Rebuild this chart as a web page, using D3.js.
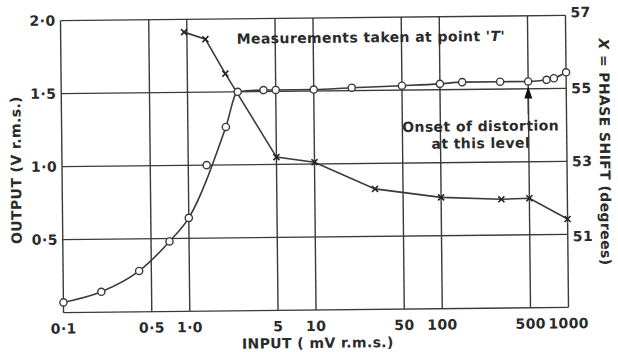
<!DOCTYPE html>
<meta charset="utf-8">
<head>
  <script src="https://d3js.org/d3.v7.min.js"></script>
  <style>
    body { margin: 0; background: #fff; }
    text { font-family: "DejaVu Sans", sans-serif; fill: #2a2a2a; letter-spacing: 0.4px; }
  </style>
</head>
<body>
  <div id="chart"></div>
  <script>
    // output curve (circles)
    var outInput = [0.1, 0.2, 0.4, 0.7, 1.0, 2, 2.5, 4, 5, 10, 20, 50, 100, 150, 300, 500, 700, 800, 1000];
    var outValue = [0.07, 0.14, 0.28, 0.48, 0.64, 1.26, 1.5, 1.51, 1.51, 1.51, 1.52, 1.53, 1.54, 1.55, 1.55, 1.55, 1.56, 1.57, 1.61];
    // stray circle off the curve
    var strayInput = [1.4];
    var strayValue = [1.0];
    // phase shift (crosses)
    var phaseInput = [0.95, 1.4, 2, 5, 10, 30, 100, 300, 500, 1000];
    var phaseDeg = [56.65, 56.45, 55.5, 53.2, 53.05, 52.3, 52.05, 51.98, 52.0, 51.42];

    var xTicks = [0.1, 0.5, 1, 5, 10, 50, 100, 500, 1000];
    var xTickLabels = ["0·1", "0·5", "1·0", "5", "10", "50", "100", "500", "1000"];
    var yTicks = [0.5, 1.0, 1.5, 2.0];
    var yTickLabels = ["0·5", "1·0", "1·5", "2·0"];
    var degTicks = [51, 53, 55, 57];

    var W = 618, H = 352;
    var pLeft = 62, pRight = 567, pTop = 18, pBottom = 310;

    var svg = d3.select("#chart").append("svg")
      .attr("width", W).attr("height", H);

    // the printed figure sits slightly askew
    var g = svg.append("g")
      .attr("transform", "rotate(-0.6," + ((pLeft + pRight) / 2) + "," + ((pTop + pBottom) / 2) + ")");

    var x = d3.scaleLog().domain([0.1, 1000]).range([pLeft, pRight]);
    var y = d3.scaleLinear().domain([0, 2]).range([pBottom, pTop]);
    var yd = d3.scaleLinear().domain([49, 57]).range([pBottom, pTop]);

    var ink = "#3a3a3a";

    // grid
    g.selectAll(".vg").data(xTicks).enter().append("line")
      .attr("x1", d => x(d)).attr("x2", d => x(d))
      .attr("y1", pTop).attr("y2", pBottom)
      .attr("stroke", ink).attr("stroke-width", 1.4);
    g.selectAll(".hg").data([0].concat(yTicks)).enter().append("line")
      .attr("x1", pLeft).attr("x2", pRight)
      .attr("y1", d => y(d)).attr("y2", d => y(d))
      .attr("stroke", ink).attr("stroke-width", 1.4);

    // tick labels
    g.selectAll(".yl").data(yTicks).enter().append("text")
      .attr("x", pLeft - 5).attr("y", d => y(d)).attr("dy", "0.35em")
      .attr("text-anchor", "end").attr("font-size", 14).attr("font-weight", "bold")
      .text((d, i) => yTickLabels[i]);
    g.selectAll(".xl").data(xTicks).enter().append("text")
      .attr("x", d => x(d)).attr("y", pBottom + 16).attr("dy", "0.35em")
      .attr("text-anchor", "middle").attr("font-size", 14).attr("font-weight", "bold")
      .text((d, i) => xTickLabels[i]);
    g.selectAll(".dl").data(degTicks).enter().append("text")
      .attr("x", pRight + 5).attr("y", d => yd(d) + (d == 57 ? -3 : (d == 51 ? 2 : 0))).attr("dy", "0.35em")
      .attr("font-size", 14).attr("font-weight", "bold")
      .text(d => d);

    // axis titles
    g.append("text")
      .attr("x", 316).attr("y", 343).attr("dy", "0.35em")
      .attr("text-anchor", "middle").attr("font-size", 14).attr("font-weight", "bold")
      .text("INPUT ( mV r.m.s.)");
    g.append("text")
      .attr("transform", "translate(16,167) rotate(-90)").attr("dy", "0.35em")
      .attr("text-anchor", "middle").attr("font-size", 14).attr("font-weight", "bold")
      .text("OUTPUT (V r.m.s.)");
    var rt = g.append("text")
      .attr("transform", "translate(605,155) rotate(90)").attr("dy", "0.35em")
      .attr("text-anchor", "middle").attr("font-size", 14).attr("font-weight", "bold");
    rt.append("tspan").attr("font-style", "italic").text("X");
    rt.append("tspan").text(" = PHASE SHIFT (degrees)");

    // annotations
    var ann = g.append("text")
      .attr("x", 238).attr("y", 38).attr("dy", "0.35em")
      .attr("font-size", 14).attr("font-weight", "bold");
    ann.append("tspan").text("Measurements taken at point ");
    ann.append("tspan").attr("font-style", "italic").text("'T'");

    g.append("text").attr("x", 481).attr("y", 128).attr("dy", "0.35em")
      .attr("text-anchor", "middle").attr("font-size", 14).attr("font-weight", "bold")
      .text("Onset of distortion");
    g.append("text").attr("x", 481).attr("y", 145).attr("dy", "0.35em")
      .attr("text-anchor", "middle").attr("font-size", 14).attr("font-weight", "bold")
      .text("at this level");

    var ax = x(500), ay = y(1.55) + 5;
    g.append("line").attr("x1", ax).attr("x2", ax)
      .attr("y1", ay + 10).attr("y2", ay + 28)
      .attr("stroke", ink).attr("stroke-width", 1.5);
    g.append("path")
      .attr("d", "M" + ax + "," + ay + "L" + (ax - 4) + "," + (ay + 12) + "L" + (ax + 4) + "," + (ay + 12) + "Z")
      .attr("fill", "#111");

    // output curve
    var outData = outInput.map((d, i) => ({ x: d, y: outValue[i] }));
    var line = d3.line().x(d => x(d.x)).y(d => y(d.y)).curve(d3.curveMonotoneX);
    g.append("path").datum(outData).attr("d", line)
      .attr("fill", "none").attr("stroke", ink).attr("stroke-width", 1.6);

    // phase curve
    var phaseData = phaseInput.map((d, i) => ({ x: d, y: phaseDeg[i] }));
    var pline = d3.line().x(d => x(d.x)).y(d => yd(d.y));
    g.append("path").datum(phaseData).attr("d", pline)
      .attr("fill", "none").attr("stroke", ink).attr("stroke-width", 1.6);

    // markers
    var circles = outData.concat(strayInput.map((d, i) => ({ x: d, y: strayValue[i] })));
    g.selectAll(".pt").data(circles).enter().append("circle")
      .attr("cx", d => x(d.x)).attr("cy", d => y(d.y)).attr("r", 3.6)
      .attr("fill", "#fff").attr("stroke", ink).attr("stroke-width", 1.4);

    g.selectAll(".cx").data(phaseData).enter().append("path")
      .attr("d", d => {
        var cx = x(d.x), cy = yd(d.y), s = 3;
        return "M" + (cx - s) + "," + (cy - s) + "L" + (cx + s) + "," + (cy + s) +
          "M" + (cx + s) + "," + (cy - s) + "L" + (cx - s) + "," + (cy + s);
      })
      .attr("stroke", "#222").attr("stroke-width", 1.6).attr("fill", "none");
  </script>
</body>
</html>
